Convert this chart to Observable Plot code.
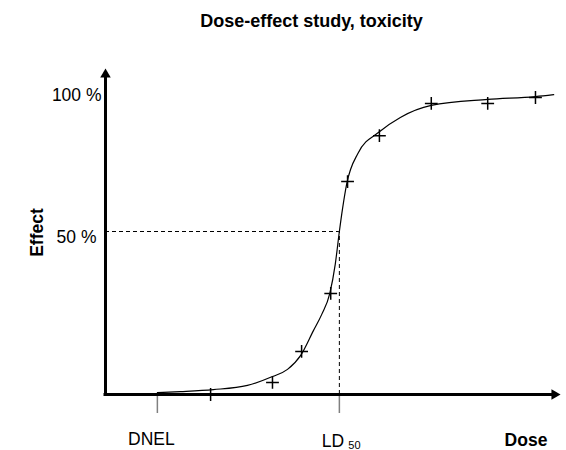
<!DOCTYPE html>
<html>
<head>
<meta charset="utf-8">
<script src="https://cdn.jsdelivr.net/npm/d3@7"></script>
<script src="https://cdn.jsdelivr.net/npm/@observablehq/plot@0.6"></script>
<style>
  html, body { margin: 0; padding: 0; background: #fff; }
  svg { display: block; }
</style>
</head>
<body>
<div id="chart"></div>
<script>
// Observed data points (dose, effect %)
const doses   = [23.1, 36.7, 43.1, 49.5, 53.2, 60.2, 71.6, 84.0, 94.5];
const effects = [0, 3.7, 13.2, 31.0, 65.3, 79.4, 89.3, 89.3, 91.1];

// Fitted dose-effect curve
const curveDose   = [11.4, 16.5, 23.7, 31.2, 36.7, 40.0, 42.9, 45.7, 47.5, 49.3, 50.5, 51.4, 52.1, 53.0, 55.5, 60.2, 64.8, 71.6, 84.0, 94.5, 98.5];
const curveEffect = [0.6, 0.9, 1.5, 2.8, 5.5, 7.7, 12.0, 19.6, 24.5, 31.0, 40.0, 50.0, 57.0, 64.5, 74.0, 80.6, 85.0, 88.7, 90.5, 91.4, 92.0];

// Reference doses on the x axis
const markerNames = ["DNEL", "LD"];
const markerDoses = [11.4, 51.4];
const ld50 = markerDoses[1];
const halfEffect = 50;

// Y labels
const yTickLabels = ["100 %", "50 %"];
const yTickValues = [100, 50];

const points = doses.map((d, i) => ({dose: d, effect: effects[i]}));
const curve = curveDose.map((d, i) => ({dose: d, effect: curveEffect[i]}));

const font = "'Liberation Sans', Arial, Helvetica, sans-serif";

const chart = Plot.plot({
  width: 566,
  height: 450,
  marginLeft: 105,
  marginRight: 6,
  marginTop: 68,
  marginBottom: 56,
  style: {fontFamily: font, background: "#fff", color: "#000"},
  x: {domain: [0, 100], axis: null},
  y: {domain: [0, 100], axis: null},
  marks: [
    // dashed guides at LD50 / 50 %
    Plot.ruleY([halfEffect], {x1: 0, x2: ld50, stroke: "#000", strokeWidth: 1, strokeDasharray: "4,3"}),
    Plot.ruleX([ld50], {y1: 0, y2: halfEffect, stroke: "#000", strokeWidth: 1, strokeDasharray: "4,3"}),
    // tick marks below the dose axis
    Plot.axisX(markerDoses, {tickSize: 19, tickFormat: () => "", label: null, stroke: "#808080", strokeWidth: 1.5}),
    // axes
    Plot.ruleY([0], {x1: 0, x2: 98, stroke: "#000", strokeWidth: 3, strokeLinecap: "square"}),
    Plot.ruleX([0], {y1: 0, y2: 97, stroke: "#000", strokeWidth: 3, strokeLinecap: "square"}),
    Plot.dot([[0, 100]], {x: d => d[0], y: d => d[1], symbol: "triangle", r: 3.9, fill: "#000", stroke: "none", dy: 6}),
    Plot.dot([[100, 0]], {x: d => d[0], y: d => d[1], symbol: "triangle", r: 3.9, fill: "#000", stroke: "none", rotate: 90, dx: -6}),
    // curve and data
    Plot.line(curve, {x: "dose", y: "effect", curve: "monotone-x", stroke: "#000", strokeWidth: 1.2}),
    Plot.dot(points, {x: "dose", y: "effect", symbol: "plus", r: 4.2, stroke: "#000", strokeWidth: 1.5}),
    // y labels
    Plot.text([yTickLabels[0]], {x: 0, y: yTickValues[0], text: d => d, textAnchor: "end", lineAnchor: "bottom", dx: -4, dy: 32, fontSize: 17.5}),
    Plot.text([yTickLabels[1]], {x: 0, y: yTickValues[1], text: d => d, textAnchor: "end", lineAnchor: "bottom", dx: -9, dy: 11, fontSize: 17.5}),
    // x labels
    Plot.text([markerNames[0]], {x: markerDoses[0], y: 0, text: d => d, textAnchor: "middle", lineAnchor: "bottom", dx: -6, dy: 50, fontSize: 17.5}),
    Plot.text([markerNames[1]], {x: markerDoses[1], y: 0, text: d => d, textAnchor: "middle", lineAnchor: "bottom", dx: -6.5, dy: 52, fontSize: 17.5}),
    Plot.text(["50"], {x: markerDoses[1], y: 0, text: d => d, textAnchor: "start", lineAnchor: "bottom", dx: 9, dy: 54.5, fontSize: 11}),
    // axis titles
    Plot.text(["Dose"], {frameAnchor: "bottom-right", text: d => d, textAnchor: "middle", lineAnchor: "bottom", dx: -34.5, dy: 51, fontSize: 17.5, fontWeight: "bold"}),
    Plot.text(["Effect"], {frameAnchor: "left", text: d => d, textAnchor: "middle", lineAnchor: "middle", rotate: -90, dx: -68, dy: 1, fontSize: 17.5, fontWeight: "bold"}),
    // title
    Plot.text(["Dose-effect study, toxicity"], {frameAnchor: "top", text: d => d, textAnchor: "middle", lineAnchor: "bottom", dx: -21.5, dy: -42, fontSize: 18, fontWeight: "bold"})
  ]
});

document.getElementById("chart").appendChild(chart);
</script>
</body>
</html>
